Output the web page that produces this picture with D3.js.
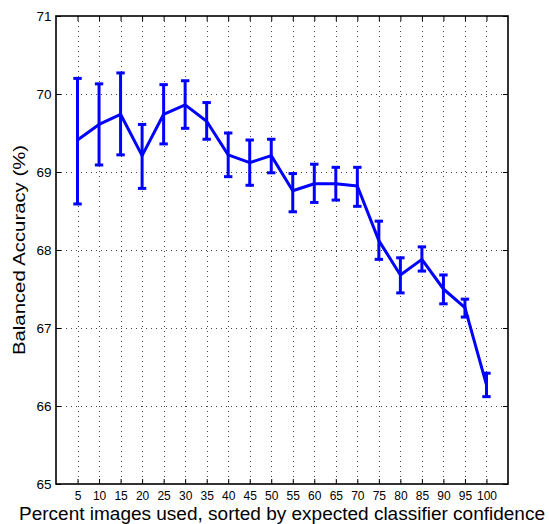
<!DOCTYPE html>
<html>
<head>
<meta charset="utf-8">
<script src="https://cdn.jsdelivr.net/npm/d3@7"></script>
<style>
  html, body { margin: 0; padding: 0; background: #fff; }
  svg { display: block; font-family: "Liberation Sans", Arial, Helvetica, sans-serif; }
</style>
</head>
<body>
<svg id="chart" width="549" height="524"></svg>
<script>
const percents = [5, 10, 15, 20, 25, 30, 35, 40, 45, 50, 55, 60, 65, 70, 75, 80, 85, 90, 95, 100];
const meanAcc  = [69.41, 69.61, 69.74, 69.21, 69.74, 69.86, 69.65, 69.22, 69.12, 69.21, 68.76, 68.85, 68.85, 68.82, 68.12, 67.68, 67.88, 67.50, 67.26, 66.27];
const upperAcc = [70.20, 70.13, 70.27, 69.61, 70.12, 70.17, 69.89, 69.50, 69.41, 69.42, 68.98, 69.10, 69.06, 69.06, 68.37, 67.90, 68.04, 67.68, 67.37, 66.42];
const lowerAcc = [68.59, 69.09, 69.22, 68.79, 69.36, 69.56, 69.42, 68.94, 68.83, 68.99, 68.49, 68.61, 68.64, 68.56, 67.88, 67.45, 67.73, 67.31, 67.14, 66.12];
const yTicks = [65, 66, 67, 68, 69, 70, 71];
const xTicks = percents;
const xTitle = "Percent images used, sorted by expected classifier confidence";
const yTitle = "Balanced Accuracy (%)";

const svg = d3.select("#chart");
const pL = 56, pR = 508, pT = 16, pB = 484;
const x = d3.scaleLinear().domain([0, 105]).range([pL, pR]);
const y = d3.scaleLinear().domain([65, 71]).range([pB, pT]);

const data = percents.map((p, i) => ({p, m: meanAcc[i], hi: upperAcc[i], lo: lowerAcc[i]}));

// grid
const grid = svg.append("g").attr("stroke", "#444").attr("stroke-width", 1).attr("stroke-dasharray", "1,4");
grid.selectAll("line.v").data(xTicks).join("line")
  .attr("x1", d => Math.round(x(d)) + 0.5).attr("x2", d => Math.round(x(d)) + 0.5)
  .attr("y1", pT).attr("y2", pB);
grid.selectAll("line.h").data(yTicks.slice(1, -1)).join("line")
  .attr("y1", d => Math.round(y(d)) + 0.5).attr("y2", d => Math.round(y(d)) + 0.5)
  .attr("x1", pL).attr("x2", pR);

// axes (MATLAB style inward ticks on all sides)
const tickLen = 5;
const fmt = d3.format("d");
const axB = svg.append("g").attr("transform", `translate(0,${pB})`)
  .call(d3.axisBottom(x).tickValues(xTicks).tickFormat(fmt).tickSize(-tickLen).tickSizeOuter(0));
const axT = svg.append("g").attr("transform", `translate(0,${pT})`)
  .call(d3.axisTop(x).tickValues(xTicks).tickSize(-tickLen).tickFormat("").tickSizeOuter(0));
const axL = svg.append("g").attr("transform", `translate(${pL},0)`)
  .call(d3.axisLeft(y).tickValues(yTicks).tickFormat(fmt).tickSize(-tickLen).tickPadding(4.5).tickSizeOuter(0));
const axR = svg.append("g").attr("transform", `translate(${pR},0)`)
  .call(d3.axisRight(y).tickValues(yTicks).tickSize(-tickLen).tickFormat("").tickSizeOuter(0));
[axB, axT, axL, axR].forEach(a => {
  a.attr("font-family", null).attr("font-size", null);
  a.select(".domain").remove();
  a.selectAll(".tick line").attr("stroke", "#000").attr("stroke-width", 1);
  a.selectAll("text").attr("fill", "#000");
});
axB.selectAll("text").attr("font-size", 12).attr("dy", null).attr("y", 500 - pB);
axL.selectAll("text").attr("font-size", 13.5);

svg.append("rect").attr("x", pL).attr("y", pT)
  .attr("width", pR - pL).attr("height", pB - pT)
  .attr("fill", "none").attr("stroke", "#000").attr("stroke-width", 1.6);

// error bars
const blue = "#0000ff";
const eb = svg.append("g").attr("stroke", blue).attr("stroke-width", 3).attr("fill", "none");
eb.selectAll("line.bar").data(data).join("line")
  .attr("x1", d => x(d.p)).attr("x2", d => x(d.p))
  .attr("y1", d => y(d.lo)).attr("y2", d => y(d.hi));
const capW = 4.2;
eb.selectAll("line.capH").data(data).join("line")
  .attr("x1", d => x(d.p) - capW).attr("x2", d => x(d.p) + capW)
  .attr("y1", d => y(d.hi)).attr("y2", d => y(d.hi));
eb.selectAll("line.capL").data(data).join("line")
  .attr("x1", d => x(d.p) - capW).attr("x2", d => x(d.p) + capW)
  .attr("y1", d => y(d.lo)).attr("y2", d => y(d.lo));

// mean line
svg.append("path").datum(data)
  .attr("fill", "none").attr("stroke", blue).attr("stroke-width", 3).attr("stroke-linejoin", "round")
  .attr("d", d3.line().x(d => x(d.p)).y(d => y(d.m)));

// titles
svg.append("text").attr("x", (pL + pR) / 2).attr("y", 520).attr("text-anchor", "middle")
  .attr("font-size", 17.5).attr("fill", "#000")
  .attr("textLength", 526).attr("lengthAdjust", "spacingAndGlyphs").text(xTitle);
svg.append("text").attr("transform", `translate(25,${(pT + pB) / 2}) rotate(-90)`)
  .attr("text-anchor", "middle").attr("font-size", 17).attr("fill", "#000")
  .attr("textLength", 210).attr("lengthAdjust", "spacingAndGlyphs").text(yTitle);
</script>
</body>
</html>
